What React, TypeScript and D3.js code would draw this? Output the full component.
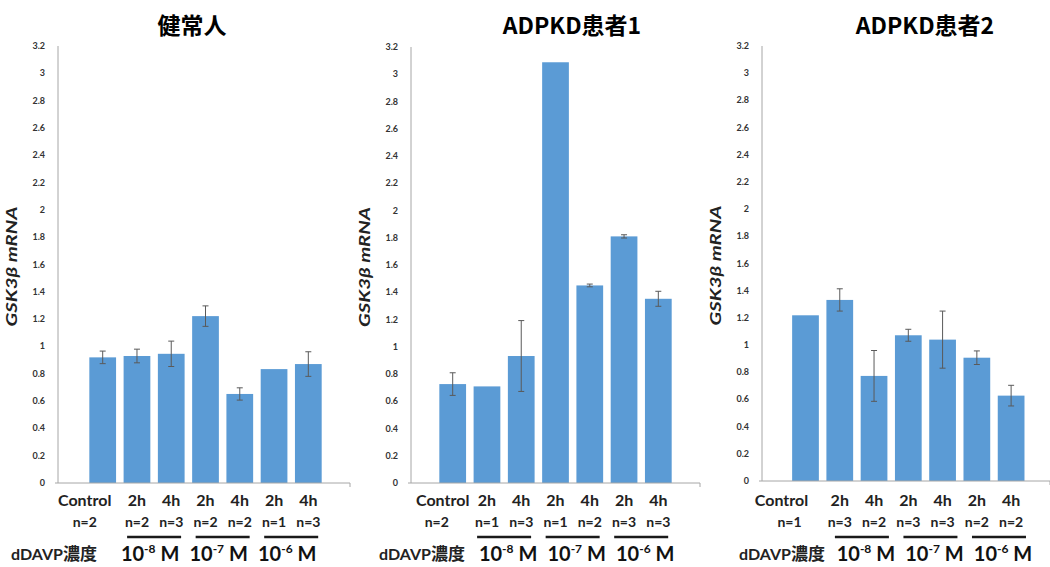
import React from "react";
import * as d3 from "d3";

// ---------- data ----------
const timeLabels = ["Control", "2h", "4h", "2h", "4h", "2h", "4h"];
const concLabels = ["10", "10", "10"];
const concExponents = ["-8", "-7", "-6"];
const yTicks = [0, 0.2, 0.4, 0.6, 0.8, 1, 1.2, 1.4, 1.6, 1.8, 2, 2.2, 2.4, 2.6, 2.8, 3, 3.2];

const panelTitles = ["健常人", "ADPKD患者1", "ADPKD患者2"];

const healthyValues = [0.92, 0.93, 0.946, 1.222, 0.652, 0.834, 0.871];
const healthyErrors = [0.046, 0.05, 0.093, 0.075, 0.045, 0, 0.09];
const healthyN = ["n=2", "n=2", "n=3", "n=2", "n=2", "n=1", "n=3"];

const patient1Values = [0.726, 0.709, 0.932, 3.088, 1.45, 1.81, 1.352];
const patient1Errors = [0.083, 0, 0.26, 0, 0.01, 0.012, 0.055];
const patient1N = ["n=2", "n=1", "n=3", "n=1", "n=2", "n=3", "n=3"];

const patient2Values = [1.219, 1.332, 0.773, 1.072, 1.04, 0.907, 0.628];
const patient2Errors = [0, 0.082, 0.187, 0.044, 0.21, 0.05, 0.076];
const patient2N = ["n=1", "n=3", "n=2", "n=3", "n=3", "n=2", "n=2"];

// ---------- layout (styles, not data) ----------
const W = 1050;
const H = 567;
const panels = [
  { title: panelTitles[0], values: healthyValues, errors: healthyErrors, n: healthyN,
    axisX: 58, axisEnd: 350, firstCenter: 102.7, yBottom: 483, yTop: 46, titleX: 192,
    ctrlDx: -18, nCtrlDx: -18, dDavpEnd: 97, concDx: -4, lineDx: 0 },
  { title: panelTitles[1], values: patient1Values, errors: patient1Errors, n: patient1N,
    axisX: 411, axisEnd: 700, firstCenter: 452.7, yBottom: 483, yTop: 47, titleX: 572,
    ctrlDx: -10, nCtrlDx: -16, dDavpEnd: 465, concDx: 4, lineDx: 0 },
  { title: panelTitles[2], values: patient2Values, errors: patient2Errors, n: patient2N,
    axisX: 762, axisEnd: 1050, firstCenter: 805.5, yBottom: 481, yTop: 46, titleX: 925,
    ctrlDx: -24, nCtrlDx: -16, dDavpEnd: 825, concDx: 9, lineDx: 5 },
];

const STEP = 34.27;
const BAR = "#5b9bd5";
const LATIN = "Lato, 'Open Sans', sans-serif";
const CJK = "'Noto Sans CJK JP', 'Noto Sans', sans-serif";

function Panel({ p }: { p: (typeof panels)[number] }) {
  const idx = d3.range(p.values.length);
  const r0 = p.firstCenter - STEP / 2;
  const x = d3
    .scaleBand<number>()
    .domain(idx)
    .range([r0, r0 + STEP * idx.length])
    .paddingInner(0.22)
    .paddingOuter(0.11);
  const y = d3.scaleLinear().domain([0, 3.2]).range([p.yBottom, p.yTop]);
  const bw = x.bandwidth();
  const cx = (i: number) => (x(i) as number) + bw / 2;
  const fmt = (v: number) => String(+v.toFixed(1));
  const pairs = [
    [1, 2],
    [3, 4],
    [5, 6],
  ];

  return (
    <g>
      {/* title */}
      <text x={p.titleX} y={34} textAnchor="middle" fontFamily={CJK} fontWeight={700}
        fontSize={23} fill="#000">{p.title}</text>

      {/* y axis label */}
      <text transform={`translate(${p.axisX - 41},${(y(0) + y(3.2)) / 2 + 2}) rotate(-90)`}
        textAnchor="middle" fontFamily={LATIN} fontStyle="italic" fontWeight={700}
        fontSize={16} textLength={120} lengthAdjust="spacingAndGlyphs" fill="#222">GSK3β mRNA</text>

      {/* ticks */}
      {yTicks.map((t) => (
        <text key={t} x={p.axisX - 13} y={y(t) + 3} textAnchor="end" fontFamily={LATIN}
          fontWeight={700} fontSize={9} fill="#333">{fmt(t)}</text>
      ))}

      {/* bars */}
      {idx.map((i) => (
        <rect key={i} x={x(i)} y={y(p.values[i])} width={bw}
          height={y(0) - y(p.values[i])} fill={BAR} />
      ))}

      {/* error bars */}
      {idx.filter((i) => p.errors[i] > 0).map((i) => {
        const c = cx(i);
        const hi = y(p.values[i] + p.errors[i]);
        const lo = y(p.values[i] - p.errors[i]);
        return (
          <g key={i} stroke="#5a5a5a" strokeWidth={1}>
            <line x1={c} x2={c} y1={hi} y2={lo} />
            <line x1={c - 3} x2={c + 3} y1={hi} y2={hi} />
            <line x1={c - 3} x2={c + 3} y1={lo} y2={lo} />
          </g>
        );
      })}

      {/* axes */}
      <line x1={p.axisX} x2={p.axisX} y1={y(3.2)} y2={y(0)} stroke="#a6a6a6" strokeWidth={1} />
      <line x1={p.axisX - 3} x2={p.axisEnd} y1={y(0)} y2={y(0)} stroke="#a6a6a6" strokeWidth={1} />
      <line x1={p.axisEnd} x2={p.axisEnd} y1={y(0)} y2={y(0) + 4} stroke="#a6a6a6" strokeWidth={1} />

      {/* time labels */}
      {idx.map((i) => (
        <text key={i} x={cx(i) + (i === 0 ? p.ctrlDx : 0)} y={506} textAnchor="middle"
          fontFamily={LATIN} fontWeight={700} fontSize={16} fill="#222">{timeLabels[i]}</text>
      ))}

      {/* n labels */}
      {idx.map((i) => (
        <text key={i} x={cx(i) + (i === 0 ? p.nCtrlDx : 0)} y={527} textAnchor="middle"
          fontFamily={LATIN} fontWeight={700} fontSize={14} fill="#222">{p.n[i]}</text>
      ))}

      {/* group lines and concentrations */}
      {pairs.map(([a, b], k) => {
        const mid = (cx(a) + cx(b)) / 2;
        return (
          <g key={k}>
            <line x1={mid + p.lineDx - 27} x2={mid + p.lineDx + 27} y1={537} y2={537}
              stroke="#1a1a1a" strokeWidth={2.5} />
            <text x={mid + p.concDx} y={561} textAnchor="middle" fontFamily={LATIN}
              fontWeight={700} fill="#111">
              <tspan fontSize={20}>{concLabels[k]}</tspan>
              <tspan fontSize={12} dy={-8}>{concExponents[k]}</tspan>
              <tspan fontSize={20} dy={8}>{" M"}</tspan>
            </text>
          </g>
        );
      })}

      {/* dDAVP label */}
      <text x={p.dDavpEnd} y={560} textAnchor="end" fontWeight={700} fill="#222">
        <tspan fontFamily={LATIN} fontSize={16}>dDAVP</tspan>
        <tspan fontFamily={CJK} fontSize={17}>濃度</tspan>
      </text>
    </g>
  );
}

export default function App() {
  return (
    <svg width={W} height={H} viewBox={`0 0 ${W} ${H}`}
      style={{ position: "absolute", left: 0, top: 0, background: "#fff" }}>
      <rect width={W} height={H} fill="#fff" />
      {panels.map((p, i) => (
        <Panel key={i} p={p} />
      ))}
    </svg>
  );
}
